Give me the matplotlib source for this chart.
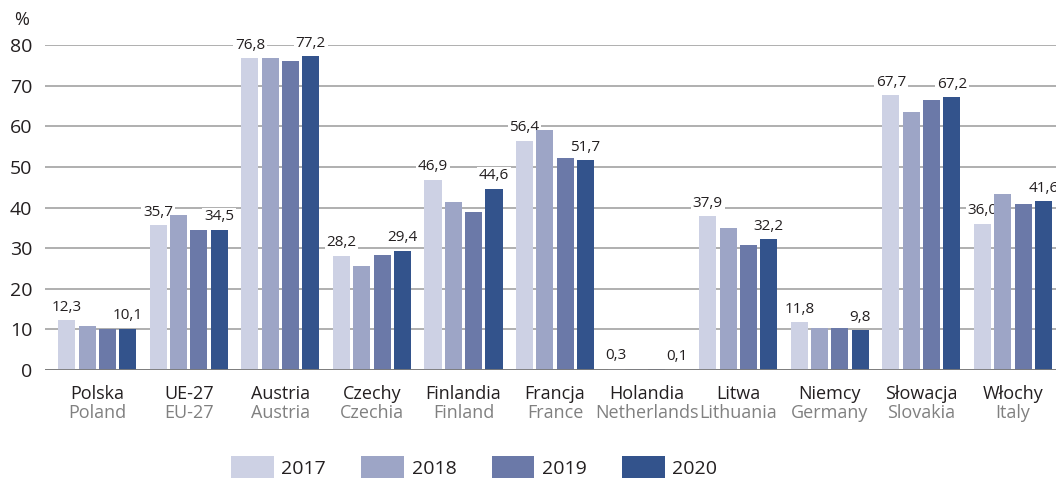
import matplotlib.pyplot as plt
import matplotlib.transforms as mtransforms
import numpy as np

plt.rcParams["font.family"] = ["Open Sans", "DejaVu Sans"]

countries_pl = ["Polska", "UE-27", "Austria", "Czechy", "Finlandia", "Francja",
                "Holandia", "Litwa", "Niemcy", "Słowacja", "Włochy"]
countries_en = ["Poland", "EU-27", "Austria", "Czechia", "Finland", "France",
                "Netherlands", "Lithuania", "Germany", "Slovakia", "Italy"]
years = ["2017", "2018", "2019", "2020"]

v2017 = [12.3, 35.7, 76.8, 28.2, 46.9, 56.4, 0.3, 37.9, 11.8, 67.7, 36.0]
v2018 = [10.8, 38.2, 76.9, 25.6, 41.4, 59.2, 0.3, 35.0, 10.3, 63.6, 43.4]
v2019 = [10.2, 34.4, 76.2, 28.3, 38.9, 52.2, 0.2, 30.8, 10.3, 66.5, 40.9]
v2020 = [10.1, 34.5, 77.2, 29.4, 44.6, 51.7, 0.1, 32.2, 9.8, 67.2, 41.6]

colors = ["#cdd1e4", "#9da5c6", "#6b79a8", "#33538c"]

fig = plt.figure(figsize=(10.56, 4.8), dpi=100)
ax = fig.add_axes([0.0426, 0.229, 0.9574, 0.677])

x = np.arange(len(countries_pl))
step = 0.222
width = 0.186
series = [v2017, v2018, v2019, v2020]
for k, vals in enumerate(series):
    ax.bar(x + (k - 1.5) * step, vals, width, color=colors[k], label=years[k],
           zorder=2)

# labels on the first and last year, white box hides the grid only
def fmt(v):
    return f"{v:.1f}".replace(".", ",")

for k in (0, 3):
    for xi, v in zip(x, series[k]):
        ax.annotate(fmt(v), (xi + (k - 1.5) * step, v), xytext=(0, 4),
                    textcoords="offset points", ha="center", va="bottom",
                    fontsize=11, color="#231f20", zorder=1.5,
                    bbox=dict(boxstyle="square,pad=0.12", fc="white", ec="none"),
                    annotation_clip=False)

ax.set_xlim(-0.57, 10.47)
ax.set_ylim(0, 80)
ax.set_yticks(range(0, 81, 10))
ax.tick_params(axis="y", length=0, pad=9, labelsize=14, labelcolor="#231f20")
ax.grid(axis="y", color="#9a9a9a", linewidth=1.1, zorder=0)
ax.set_axisbelow(True)
for s in ax.spines.values():
    s.set_visible(False)
ax.axhline(0, color="#7a7a7a", linewidth=1.3, zorder=2.5)

ax.set_xticks(x)
ax.set_xticklabels(countries_pl, fontsize=13, color="#231f20")
ax.tick_params(axis="x", length=0, pad=11)
trans = ax.get_xaxis_transform()
for xi, name in zip(x, countries_en):
    ax.text(xi, 0, name, transform=trans + mtransforms.ScaledTranslation(0, -43 / 100, fig.dpi_scale_trans),
            ha="center", va="center", fontsize=13, color="#808080")

fig.text(0.013, 0.958, "%", fontsize=13, color="#231f20", ha="left", va="center")

fig.legend(loc="center", bbox_to_anchor=(0.449, 0.027), ncol=4,
           frameon=False, fontsize=14, handlelength=2.2, handleheight=1.4,
           handletextpad=0.4, columnspacing=1.8, labelcolor="#231f20",
           borderpad=0)

fig.savefig("out.png", dpi=100)
